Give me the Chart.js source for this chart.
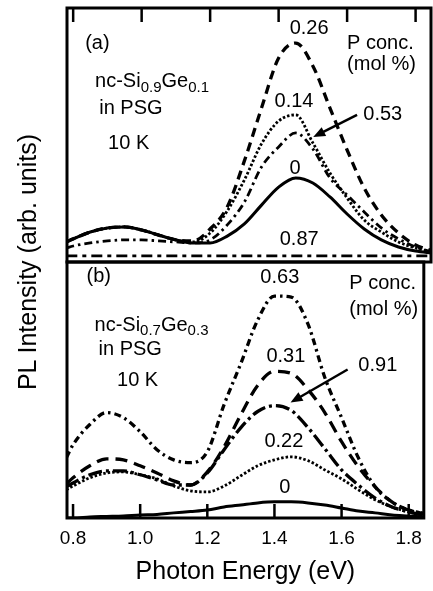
<!DOCTYPE html>
<html>
<head>
<meta charset="utf-8">
<script src="https://cdn.jsdelivr.net/npm/chart.js@4/dist/chart.umd.min.js"></script>
<style>
  html, body { margin: 0; padding: 0; background: #fff; }
  #wrap { position: relative; width: 433px; height: 591px; overflow: hidden; }
  #panelA { position: absolute; left: 0; top: 0; }
  #panelB { position: absolute; left: 0; top: 252px; }
  #ytitle {
    position: absolute; left: -122px; top: 247px; width: 300px; height: 30px;
    line-height: 30px; text-align: center; color: #000;
    font: 25px "Liberation Sans", Arial, sans-serif;
    transform: rotate(-90deg);
  }
</style>
</head>
<body>
<div id="wrap">
  <canvas id="panelA" width="433" height="264"></canvas>
  <canvas id="panelB" width="433" height="339"></canvas>
  <div id="ytitle">PL Intensity (arb. units)</div>
</div>
<script>
// photon energy (eV)
const energy = [0.78, 0.80, 0.85, 0.90, 0.95, 1.00, 1.05, 1.10, 1.15, 1.20, 1.25, 1.30,
                1.35, 1.40, 1.45, 1.50, 1.55, 1.60, 1.65, 1.70, 1.75, 1.80, 1.85];
const tickValues = [0.8, 1.0, 1.2, 1.4, 1.6, 1.8];

// (a) nc-Si0.9Ge0.1, P conc. in mol %
const a000 = [7.9, 9.1, 11.8, 13.4, 13.8, 12.6, 10.6, 8.7, 7.5, 7.5, 10.2, 15.0, 22.4, 29.5, 33.1, 31.1, 25.6, 18.9, 13.0, 8.7, 5.9, 4.3, 3.5];
const a014 = [7.9, 9.1, 11.8, 13.4, 13.8, 12.6, 10.6, 8.7, 7.9, 11.4, 20.1, 32.3, 46.5, 55.5, 57.9, 46.9, 35.0, 25.2, 16.5, 11.8, 7.9, 5.5, 3.9];
const a026 = [7.9, 9.1, 11.8, 13.4, 13.8, 12.6, 10.6, 8.7, 8.3, 13.0, 21.7, 39.8, 60.6, 80.3, 86.2, 77.2, 60.6, 44.1, 29.1, 18.5, 11.4, 6.7, 4.3];
const a053 = [5.5, 6.3, 7.5, 8.3, 8.7, 8.7, 8.3, 7.9, 7.5, 8.7, 14.6, 23.6, 37.4, 45.3, 50.8, 44.5, 33.1, 26.4, 19.7, 13.4, 9.1, 5.9, 3.9];
const a087 = [2.4, 2.4, 2.4, 2.4, 2.4, 2.4, 2.4, 2.4, 2.4, 2.4, 2.4, 2.4, 2.4, 2.4, 2.4, 2.4, 2.4, 2.4, 2.4, 2.4, 2.4, 2.4, 2.4];

// (b) nc-Si0.7Ge0.3
const b000 = [0, 0, 0.4, 0.6, 0.8, 1.2, 1.4, 2.0, 2.5, 3.1, 4.3, 5.1, 5.9, 6.3, 6.3, 5.9, 5.1, 3.9, 2.7, 2.0, 1.2, 0.8, 0.4];
const b022 = [11.0, 12.5, 15.7, 17.6, 18.0, 16.9, 15.3, 12.5, 10.6, 10.2, 12.5, 16.5, 20.4, 22.7, 23.9, 22.4, 18.8, 15.3, 11.0, 7.1, 4.3, 2.4, 1.2];
const b031 = [13.3, 15.7, 20.4, 23.1, 22.7, 20.4, 17.6, 14.5, 12.9, 18.0, 27.8, 40.4, 51.8, 57.3, 56.5, 50.2, 41.2, 29.8, 20.0, 12.2, 6.3, 3.1, 1.6];
const b063 = [23.5, 28.6, 36.5, 41.2, 39.2, 33.7, 26.7, 22.7, 21.6, 25.9, 44.3, 60.4, 77.3, 86.7, 86.3, 75.7, 54.9, 39.2, 23.5, 12.2, 6.3, 3.1, 1.6];
const b091 = [12.2, 13.7, 16.9, 18.4, 18.4, 16.9, 14.9, 12.9, 12.9, 17.6, 26.7, 35.3, 41.6, 43.9, 42.0, 35.3, 27.1, 18.8, 12.9, 7.8, 4.3, 2.4, 0.8];

const FONT = '"Liberation Sans", Arial, sans-serif';

const frame = {
  id: 'frame',
  afterDatasetsDraw(chart, args, opts) {
    const { ctx, chartArea: { left, top, right, bottom }, scales: { x } } = chart;
    ctx.save();
    ctx.strokeStyle = '#000';
    ctx.lineWidth = 3;
    ctx.strokeRect(left, top, right - left, bottom - top);
    ctx.lineWidth = 2.5;
    tickValues.forEach(v => {
      const px = x.getPixelForValue(v);
      ctx.beginPath();
      if (opts.side === 'top') { ctx.moveTo(px, top); ctx.lineTo(px, top + 14); }
      else { ctx.moveTo(px, bottom); ctx.lineTo(px, bottom - 14); }
      ctx.stroke();
    });
    ctx.restore();
  }
};

const notes = {
  id: 'notes',
  afterDatasetsDraw(chart, args, opts) {
    const { ctx, scales: { x, y } } = chart;
    const fontFor = p => (p[1] ? 15 : 20) + 'px ' + FONT;
    ctx.save();
    ctx.fillStyle = '#000';
    ctx.strokeStyle = '#000';
    ctx.textBaseline = 'middle';
    ctx.textAlign = 'left';
    (opts.items || []).forEach(n => {
      const parts = n.parts || [[n.text]];
      let w = 0;
      parts.forEach(p => { ctx.font = fontFor(p); w += ctx.measureText(p[0]).width; });
      let px = x.getPixelForValue(n.x);
      if (n.align === 'center') px -= w / 2;
      const py = y.getPixelForValue(n.y);
      parts.forEach(p => {
        ctx.font = fontFor(p);
        ctx.fillText(p[0], px, py + (p[1] ? 6 : 0));
        px += ctx.measureText(p[0]).width;
      });
    });
    (opts.arrows || []).forEach(a => {
      const x1 = x.getPixelForValue(a.from[0]), y1 = y.getPixelForValue(a.from[1]);
      const x2 = x.getPixelForValue(a.to[0]), y2 = y.getPixelForValue(a.to[1]);
      const ang = Math.atan2(y2 - y1, x2 - x1);
      ctx.lineWidth = 2.5;
      ctx.beginPath();
      ctx.moveTo(x1, y1);
      ctx.lineTo(x2 - 8 * Math.cos(ang), y2 - 8 * Math.sin(ang));
      ctx.stroke();
      ctx.beginPath();
      ctx.moveTo(x2, y2);
      ctx.lineTo(x2 - 12 * Math.cos(ang) + 5 * Math.sin(ang), y2 - 12 * Math.sin(ang) - 5 * Math.cos(ang));
      ctx.lineTo(x2 - 12 * Math.cos(ang) - 5 * Math.sin(ang), y2 - 12 * Math.sin(ang) + 5 * Math.cos(ang));
      ctx.closePath();
      ctx.fill();
    });
    ctx.restore();
  }
};

const panel = (id, sets, side, padding, items, arrows, showAxis) => new Chart(
  document.getElementById(id), {
    type: 'line',
    plugins: [frame, notes],
    data: {
      datasets: sets.map(s => ({
        label: s.label,
        data: energy.map((e, i) => ({ x: e, y: s.values[i] })),
        borderColor: '#000',
        borderWidth: s.width,
        borderDash: s.dash,
        pointRadius: 0,
        fill: false,
        cubicInterpolationMode: 'monotone'
      }))
    },
    options: {
      responsive: false,
      animation: false,
      events: [],
      layout: { padding },
      plugins: {
        legend: { display: false },
        tooltip: { enabled: false },
        frame: { side },
        notes: { items, arrows }
      },
      scales: {
        x: {
          type: 'linear',
          min: 0.782,
          max: 1.845,
          display: showAxis,
          afterBuildTicks: scale => { scale.ticks = tickValues.map(v => ({ value: v })); },
          grid: { display: false, drawTicks: false },
          border: { display: false },
          ticks: {
            padding: 11,
            color: '#000',
            font: { family: FONT, size: 19, lineHeight: 1 },
            callback: v => v.toFixed(1)
          },
          title: {
            display: true,
            text: 'Photon Energy (eV)',
            color: '#000',
            padding: { top: 1, bottom: 0 },
            font: { family: FONT, size: 25, lineHeight: 1 }
          }
        },
        y: { display: false, min: 0, max: 100 }
      }
    }
  });

panel('panelA', [
  { label: '0.87', values: a087, width: 2.8, dash: [11, 5, 4, 5] },
  { label: '0.53', values: a053, width: 2.8, dash: [8, 4, 2.5, 4] },
  { label: '0.14', values: a014, width: 2.8, dash: [2.5, 2] },
  { label: '0.26', values: a026, width: 3.3, dash: [9, 6] },
  { label: '0', values: a000, width: 3, dash: [] }
], 'top', { left: 67, top: 8, right: 2, bottom: 2 }, [
  { text: '(a)', x: 0.835, y: 86.2 },
  { parts: [['nc-Si'], ['0.9', 1], ['Ge'], ['0.1', 1]], x: 0.864, y: 70.9 },
  { text: 'in PSG', x: 0.876, y: 60.6 },
  { text: '10 K', x: 0.902, y: 46.7 },
  { text: '0.26', x: 1.489, y: 92.1, align: 'center' },
  { text: 'P conc.', x: 1.600, y: 86.0 },
  { text: '(mol %)', x: 1.600, y: 77.6 },
  { text: '0.14', x: 1.445, y: 63.1, align: 'center' },
  { text: '0.53', x: 1.704, y: 57.9, align: 'center' },
  { text: '0', x: 1.448, y: 37.0, align: 'center' },
  { text: '0.87', x: 1.460, y: 8.7, align: 'center' }
], [{ from: [1.629, 57.9], to: [1.501, 49.2] }], false);

panel('panelB', [
  { label: '0', values: b000, width: 3, dash: [] },
  { label: '0.22', values: b022, width: 2.8, dash: [2.5, 2] },
  { label: '0.91', values: b091, width: 3.3, dash: [14, 4, 3, 4] },
  { label: '0.31', values: b031, width: 3.3, dash: [12, 7] },
  { label: '0.63', values: b063, width: 3.3, dash: [7, 4, 2.5, 4] }
], 'bottom', { left: 67, top: 10, right: 2, bottom: 6 }, [
  { text: '(b)', x: 0.840, y: 94.5 },
  { parts: [['nc-Si'], ['0.7', 1], ['Ge'], ['0.3', 1]], x: 0.864, y: 75.3 },
  { text: 'in PSG', x: 0.876, y: 65.9 },
  { text: '10 K', x: 0.931, y: 53.7 },
  { text: '0.63', x: 1.416, y: 94.1, align: 'center' },
  { text: 'P conc.', x: 1.623, y: 91.8 },
  { text: '(mol %)', x: 1.623, y: 81.6 },
  { text: '0.31', x: 1.434, y: 63.1, align: 'center' },
  { text: '0.91', x: 1.708, y: 59.6, align: 'center' },
  { text: '0.22', x: 1.428, y: 29.8, align: 'center' },
  { text: '0', x: 1.431, y: 11.8, align: 'center' }
], [{ from: [1.618, 58.0], to: [1.448, 45.1] }], true);
</script>
</body>
</html>
